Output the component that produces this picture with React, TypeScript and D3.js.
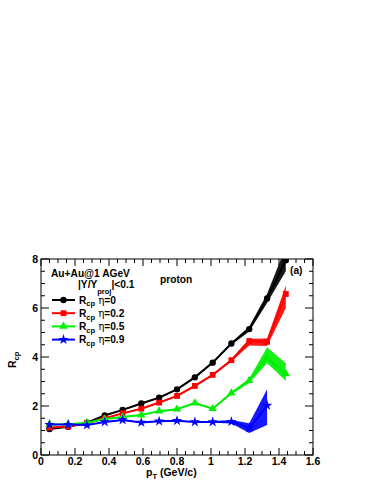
import * as d3 from "d3";

const pt = [0.05, 0.16, 0.27, 0.375, 0.48, 0.59, 0.695, 0.8, 0.905, 1.01, 1.12, 1.225, 1.33, 1.44];

const rcpEta0 = [1.06, 1.15, 1.32, 1.61, 1.84, 2.1, 2.34, 2.68, 3.17, 3.77, 4.55, 5.14, 6.39, 7.95];
const loEta0 = [1.04, 1.13, 1.3, 1.59, 1.82, 2.07, 2.31, 2.65, 3.13, 3.72, 4.5, 5.04, 6.2, 7.5];
const hiEta0 = [1.08, 1.17, 1.34, 1.63, 1.86, 2.13, 2.37, 2.71, 3.21, 3.82, 4.6, 5.24, 6.58, 8.5];

const rcpEta02 = [1.12, 1.16, 1.29, 1.5, 1.7, 1.89, 2.14, 2.41, 2.82, 3.27, 3.87, 4.65, 4.62, 6.57];
const loEta02 = [1.1, 1.14, 1.27, 1.48, 1.68, 1.87, 2.11, 2.38, 2.78, 3.23, 3.82, 4.47, 4.45, 6.0];
const hiEta02 = [1.14, 1.18, 1.31, 1.52, 1.72, 1.91, 2.17, 2.44, 2.86, 3.31, 3.92, 4.75, 4.76, 6.92];

const rcpEta05 = [1.25, 1.26, 1.32, 1.47, 1.55, 1.63, 1.79, 1.87, 2.12, 1.89, 2.53, 3.04, 3.97, 3.31];
const loEta05 = [1.23, 1.24, 1.3, 1.45, 1.53, 1.61, 1.77, 1.85, 2.09, 1.86, 2.48, 2.94, 3.74, 3.03];
const hiEta05 = [1.27, 1.28, 1.34, 1.49, 1.57, 1.65, 1.81, 1.89, 2.15, 1.92, 2.58, 3.12, 4.4, 3.74];

const rcpEta09 = [1.24, 1.24, 1.22, 1.35, 1.43, 1.33, 1.38, 1.4, 1.35, 1.35, 1.36, 1.1, 2.02];
const loEta09 = [1.22, 1.22, 1.2, 1.33, 1.41, 1.31, 1.36, 1.38, 1.33, 1.32, 1.29, 0.9, 1.22];
const hiEta09 = [1.26, 1.26, 1.24, 1.37, 1.45, 1.35, 1.4, 1.42, 1.37, 1.38, 1.43, 1.3, 2.68];

const xTicks = [0, 0.2, 0.4, 0.6, 0.8, 1, 1.2, 1.4, 1.6];
const yTicks = [0, 2, 4, 6, 8];

const series = [
  { label: "0", color: "#000000", symbol: d3.symbolCircle, size: 32, y: rcpEta0, lo: loEta0, hi: hiEta0 },
  { label: "0.2", color: "#ff0000", symbol: d3.symbolSquare, size: 34, y: rcpEta02, lo: loEta02, hi: hiEta02 },
  { label: "0.5", color: "#00ee00", symbol: d3.symbolTriangle, size: 30, y: rcpEta05, lo: loEta05, hi: hiEta05 },
  { label: "0.9", color: "#0000ff", symbol: d3.symbolStar, size: 34, y: rcpEta09, lo: loEta09, hi: hiEta09 },
];

const font = "'Liberation Sans', Arial, sans-serif";

export default function App() {
  const W = 374;
  const H = 484;
  const m = { left: 41, right: 313, top: 259, bottom: 455 };

  const x = d3.scaleLinear().domain([0, 1.6]).range([m.left, m.right]);
  const y = d3.scaleLinear().domain([0, 8]).range([m.bottom, m.top]);

  const minorX = d3.range(0, 1.6001, 0.05);
  const minorY = d3.range(0, 8.001, 0.5);

  const line = d3
    .line<number>()
    .x((_, i) => x(pt[i]))
    .y((d) => y(d));

  return (
    <svg width={W} height={H} style={{ position: "absolute", left: 0, top: 0 }} fontFamily={font} fontWeight="bold">
      <rect width={W} height={H} fill="white" />
      <defs>
        <clipPath id="plot">
          <rect x={m.left} y={m.top} width={m.right - m.left} height={m.bottom - m.top} />
        </clipPath>
      </defs>

      <g clipPath="url(#plot)">
        {series.map((s) => {
          const band = d3
            .area<number>()
            .x((_, i) => x(pt[i]))
            .y0((_, i) => y(s.lo[i]))
            .y1((_, i) => y(s.hi[i]));
          return <path key={"b" + s.label} d={band(s.y) || ""} fill={s.color} opacity={0.9} />;
        })}
        {series.map((s) => (
          <g key={"l" + s.label}>
            <path d={line(s.y) || ""} fill="none" stroke={s.color} strokeWidth={2} />
            {s.y.map((v, i) => (
              <path
                key={i}
                d={d3.symbol(s.symbol, s.size)() || ""}
                transform={`translate(${x(pt[i])},${y(v)})`}
                fill={s.color}
              />
            ))}
          </g>
        ))}
      </g>

      {/* frame */}
      <rect x={m.left} y={m.top} width={m.right - m.left} height={m.bottom - m.top} fill="none" stroke="black" strokeWidth={1} />

      {/* ticks, mirrored on top and right */}
      {minorX.map((t, i) => {
        const len = i % 4 === 0 ? 7 : 4;
        return (
          <g key={"xt" + i} stroke="black" strokeWidth={1}>
            <line x1={x(t)} x2={x(t)} y1={m.bottom} y2={m.bottom - len} />
            <line x1={x(t)} x2={x(t)} y1={m.top} y2={m.top + len} />
          </g>
        );
      })}
      {minorY.map((t, i) => {
        const len = i % 4 === 0 ? 8 : 4;
        return (
          <g key={"yt" + i} stroke="black" strokeWidth={1}>
            <line x1={m.left} x2={m.left + len} y1={y(t)} y2={y(t)} />
            <line x1={m.right} x2={m.right - len} y1={y(t)} y2={y(t)} />
          </g>
        );
      })}

      {xTicks.map((t) => (
        <text key={"xl" + t} x={x(t)} y={465} fontSize={10.5} textAnchor="middle">
          {String(t)}
        </text>
      ))}
      {yTicks.map((t) => (
        <text key={"yl" + t} x={38} y={y(t) + 4} fontSize={10.5} textAnchor="end">
          {String(t)}
        </text>
      ))}

      {/* axis titles */}
      <text x={146} y={476} fontSize={10.5}>
        p<tspan dy={3} fontSize={7.5}>T</tspan>
        <tspan dy={-3}> (GeV/c)</tspan>
      </text>
      <text transform="translate(16,368) rotate(-90)" fontSize={10.5}>
        R<tspan dy={3} fontSize={7.5}>cp</tspan>
      </text>

      {/* annotations */}
      <text x={51} y={277} fontSize={10.2}>Au+Au@1 AGeV</text>
      <text x={78} y={288} fontSize={10.2}>
        |Y/Y<tspan dy={5.5} fontSize={7.5}>proj</tspan>
        <tspan dy={-5.5}>|&lt;0.1</tspan>
      </text>
      <text x={160} y={283} fontSize={10.2}>proton</text>
      <text x={290} y={274} fontSize={10.2}>(a)</text>

      {/* legend */}
      {series.map((s, i) => {
        const ly = 300 + i * 13.2;
        return (
          <g key={"lg" + s.label}>
            <line x1={52} x2={75} y1={ly} y2={ly} stroke={s.color} strokeWidth={2} />
            <path d={d3.symbol(s.symbol, s.size)() || ""} transform={`translate(63.5,${ly})`} fill={s.color} />
            <text x={79} y={ly + 3.8} fontSize={10.2}>
              R<tspan dy={2.5} fontSize={7.5}>cp</tspan>
              <tspan dy={-2.5} dx={3} fontWeight="normal" fontFamily="'DejaVu Serif', serif">η</tspan>
              <tspan>={s.label}</tspan>
            </text>
          </g>
        );
      })}
    </svg>
  );
}
